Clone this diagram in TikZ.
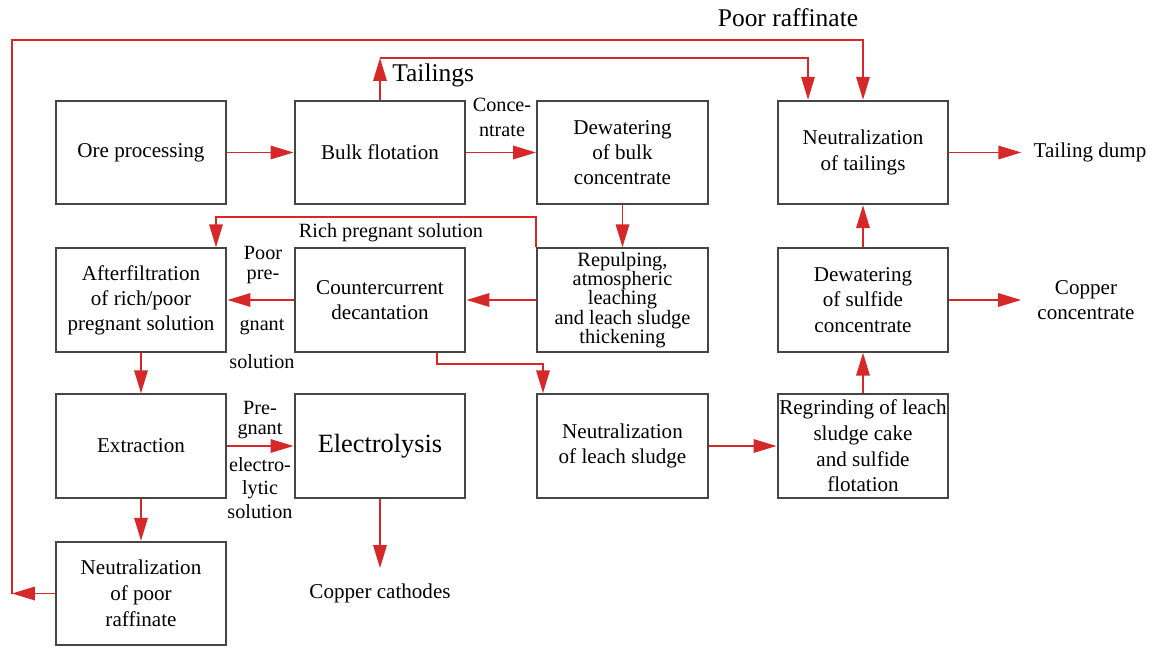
\documentclass[tikz,border=0pt]{standalone}
\usepackage{fontspec}
\setmainfont{Liberation Serif}
\usetikzlibrary{arrows.meta}
\definecolor{flowred}{RGB}{214,40,40}
\definecolor{boxgray}{RGB}{70,70,70}

\begin{document}
\begin{tikzpicture}[x=0.02cm,y=-0.02cm,
    box/.style={draw=boxgray,line width=0.04cm,minimum width=3.42cm,minimum height=2.07cm,align=center,inner sep=0pt,font=\fontsize{12}{14.3}\selectfont},
    flow/.style={draw=flowred,line width=0.035cm,-{Triangle[length=0.46cm,width=0.27cm]}},
    lbl/.style={align=center,inner sep=0pt,font=\fontsize{11.5}{11.4}\selectfont}]
    \useasboundingbox (0,0) rectangle (1153,649);

    \node[box] (ore) at (141,152.5) {Ore processing};
    \node[box] (bulk) at (380,152.5) {Bulk flotation};
    \node[box] (dwb) at (622.5,152.5) {Dewatering\\of bulk\\concentrate};
    \node[box] (ntail) at (863,152.5) {Neutralization\\of tailings};

    \node[box] (aft) at (141,300) {Afterfiltration\\of rich/poor\\pregnant solution};
    \node[box] (ccd) at (380,300) {Countercurrent\\decantation};
    \node[box,font=\fontsize{11.6}{10.9}\selectfont] (rep) at (622.5,300) {Repulping,\\atmospheric\\leaching\\and leach sludge\\thickening};
    \node[box] (dws) at (863,300) {Dewatering\\of sulfide\\concentrate};

    \node[box] (ext) at (141,446) {Extraction};
    \node[box,font=\fontsize{15}{18}\selectfont] (elec) at (380,446) {Electrolysis};
    \node[box] (nls) at (622.5,446) {Neutralization\\of leach sludge};
    \node[box,font=\fontsize{12}{14.6}\selectfont] (reg) at (863,446) {Regrinding of leach\\sludge cake\\and sulfide\\flotation};

    \node[box,font=\fontsize{12}{14.8}\selectfont] (npr) at (141,593.5) {Neutralization\\of poor\\raffinate};

    \node[lbl,font=\fontsize{12}{14.3}\selectfont] (dump) at (1090,152.5) {Tailing dump};
    \node[lbl,font=\fontsize{12}{14.3}\selectfont] (conc) at (1086,300) {Copper\\concentrate};
    \node[lbl,font=\fontsize{12}{14.3}\selectfont] (cath) at (380,593) {Copper cathodes};

    \node[lbl,font=\fontsize{14.5}{17}\selectfont] (praf) at (788,18) {Poor raffinate};
    \node[lbl,font=\fontsize{14.5}{17}\selectfont,anchor=west] (tail) at (392,75) {Tailings};
    \node[lbl,font=\fontsize{11.5}{14.3}\selectfont] (concl) at (502,117) {Conce-\\ntrate};
    \node[lbl] (rich) at (391,233) {Rich pregnant solution};
    \node[lbl,font=\fontsize{11.5}{11.8}\selectfont] (poor1) at (263,265) {Poor\\pre-};
    \node[lbl] (poor2) at (262,327) {gnant};
    \node[lbl] (poor3) at (262,362) {solution};
    \node[lbl,font=\fontsize{11.5}{11.2}\selectfont] (preg1) at (260,420) {Pre-\\gnant};
    \node[lbl,font=\fontsize{11.5}{13.5}\selectfont] (preg2) at (260,488) {electro-\\lytic\\solution};

    \coordinate (tl) at (380,58);
    \coordinate (tr) at (808,58);
    \coordinate (pl) at (12,593.5);
    \coordinate (pt) at (863,40);
    \coordinate (ra) at (216,217);
    \coordinate (cs) at (543,364);

    \draw[flow] (ore) -- (bulk);
    \draw[flow] (bulk) -- (dwb);
    \draw[flow] (bulk) -- (tl);
    \draw[flow] (tl) -- (tr) -- (tr |- ntail.north);
    \draw[flow] (npr) -- (pl);
    \draw[flow] (pl) |- (pt) -- (ntail);
    \draw[flow,shorten >=0.24cm] (ntail) -- (dump);
    \draw[flow] (dwb) -- (rep);
    \draw[flow] (rep.north west) |- (ra) -- (ra |- aft.north);
    \draw[flow] (rep) -- (ccd);
    \draw[flow] (ccd) -- (aft);
    \draw[flow] ([xshift=1.14cm]ccd.south) |- (cs) -- (cs |- nls.north);
    \draw[flow] (aft) -- (ext);
    \draw[flow] (ext) -- (elec);
    \draw[flow] (ext) -- (npr);
    \draw[flow,shorten >=0.3cm] (elec) -- (cath);
    \draw[flow] (nls) -- (reg);
    \draw[flow] (reg) -- (dws);
    \draw[flow] (dws) -- (ntail);
    \draw[flow,shorten >=0.32cm] (dws) -- (conc);
\end{tikzpicture}
\end{document}
